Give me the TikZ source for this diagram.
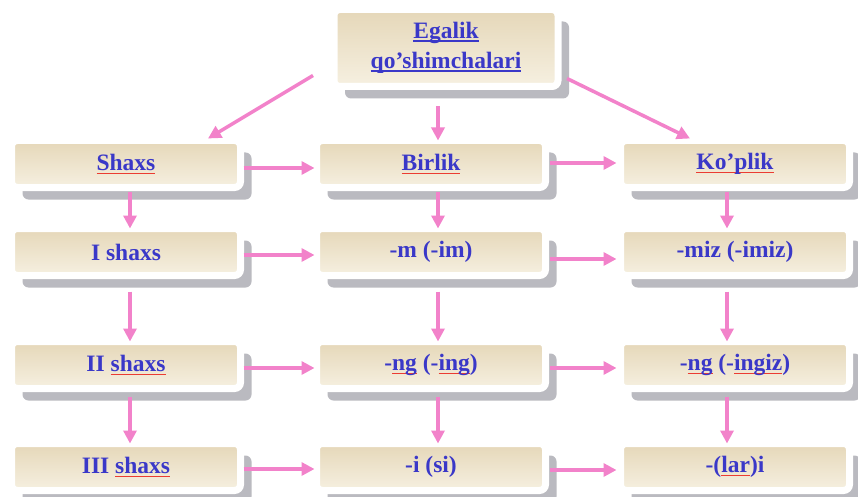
\documentclass[tikz,border=0pt]{standalone}
\usepackage{fontspec}
\setmainfont{Liberation Serif}
\usetikzlibrary{arrows.meta,shadows,calc}
\definecolor{beigeTop}{RGB}{229,215,184}
\definecolor{beigeBot}{RGB}{246,240,225}
\definecolor{inkblue}{RGB}{58,56,200}
\definecolor{ulred}{RGB}{235,60,50}
\definecolor{arrowpink}{RGB}{242,130,202}
\definecolor{shadowgray}{RGB}{186,186,192}
% coloured underlines drawn as rules under the text
\newcommand\redul[1]{\leavevmode\setbox0\hbox{#1}\rlap{\textcolor{ulred}{\rule[-3.6pt]{\wd0}{1.3pt}}}\box0\relax}
\newcommand\blueul[1]{\leavevmode\setbox0\hbox{#1}\rlap{\textcolor{inkblue}{\rule[-3.2pt]{\wd0}{1.5pt}}}\box0\relax}
\begin{document}
\begin{tikzpicture}[x=1pt,y=-1pt,
  cell/.style={rectangle, rounded corners=6pt, draw=white, line width=7pt,
    top color=beigeTop, bottom color=beigeBot,
    minimum width=229pt, minimum height=47pt, outer sep=0pt, inner sep=0pt,
    text=inkblue, font=\fontsize{23.5}{30}\selectfont\bfseries,
    general shadow={fill=shadowgray, shadow xshift=11pt, shadow yshift=-12pt}},
  arr/.style={draw=arrowpink, line width=3.5pt, -{Triangle[length=13pt,width=13pt]}}]
\useasboundingbox (0,0) rectangle (858,497);
\fill[white] (0,0) rectangle (858,497);

% heading
\node[cell, minimum width=224pt, minimum height=77pt, align=center] (top) at (446,48)
  {\blueul{Egalik}\\\blueul{qo’shimchalari}};

% first row
\node[cell] (shaxs)  at (126,164) {\redul{Shaxs}};
\node[cell] (birlik) at (431,164) {\redul{Birlik}};
\node[cell] (koplik) at (735,164) {\redul{Ko’plik}};

% persons
\node[cell] (s1) at (126,252) {I shaxs};
\node[cell] (s2) at (126,365) {II \redul{shaxs}};
\node[cell] (s3) at (126,467) {III \redul{shaxs}};

% singular suffixes
\node[cell] (b1) at (431,252) {-m (-im)};
\node[cell] (b2) at (431,365) {-\redul{ng} (-\redul{ing})};
\node[cell] (b3) at (431,467) {-i (si)};

% plural suffixes
\node[cell] (k1) at (735,252) {-miz (-imiz)};
\node[cell] (k2) at (735,365) {-\redul{ng} (-\redul{ingiz})};
\node[cell] (k3) at (735,467) {-(\redul{lar})i};

% from the heading
\draw[arr] ($(top.south west)+(-21,-11)$) -- ($(shaxs.north)+(82,-2)$);
\draw[arr] ($(top.south)+(-8,20)$) -- ($(birlik.north)+(7,0)$);
\draw[arr] ($(top.south east)+(9,-8)$) -- ($(koplik.north)+(-45,-2)$);

% across the first row
\draw[arr] ($(shaxs.east)+(3,4)$) -- ($(birlik.west)+(-2,4)$);
\draw[arr] ($(birlik.east)+(4,-1)$) -- ($(koplik.west)+(-4,-1)$);

% down the columns
\draw[arr] ($(shaxs.south)+(4,4)$) -- ($(s1.north)+(4,0)$);
\draw[arr] ($(s1.south)+(4,16)$) -- ($(s2.north)+(4,0)$);
\draw[arr] ($(s2.south)+(4,8)$) -- ($(s3.north)+(4,0)$);
\draw[arr] ($(birlik.south)+(7,4)$) -- ($(b1.north)+(7,0)$);
\draw[arr] ($(b1.south)+(7,16)$) -- ($(b2.north)+(7,0)$);
\draw[arr] ($(b2.south)+(7,8)$) -- ($(b3.north)+(7,0)$);
\draw[arr] ($(koplik.south)+(-8,4)$) -- ($(k1.north)+(-8,0)$);
\draw[arr] ($(k1.south)+(-8,16)$) -- ($(k2.north)+(-8,0)$);
\draw[arr] ($(k2.south)+(-8,8)$) -- ($(k3.north)+(-8,0)$);

% across the lower rows
\draw[arr] ($(s1.east)+(3,3)$) -- ($(b1.west)+(-2,3)$);
\draw[arr] ($(b1.east)+(4,7)$) -- ($(k1.west)+(-4,7)$);
\draw[arr] ($(s2.east)+(3,3)$) -- ($(b2.west)+(-2,3)$);
\draw[arr] ($(b2.east)+(4,3)$) -- ($(k2.west)+(-4,3)$);
\draw[arr] ($(s3.east)+(3,2)$) -- ($(b3.west)+(-2,2)$);
\draw[arr] ($(b3.east)+(4,3)$) -- ($(k3.west)+(-4,3)$);
\end{tikzpicture}
\end{document}
